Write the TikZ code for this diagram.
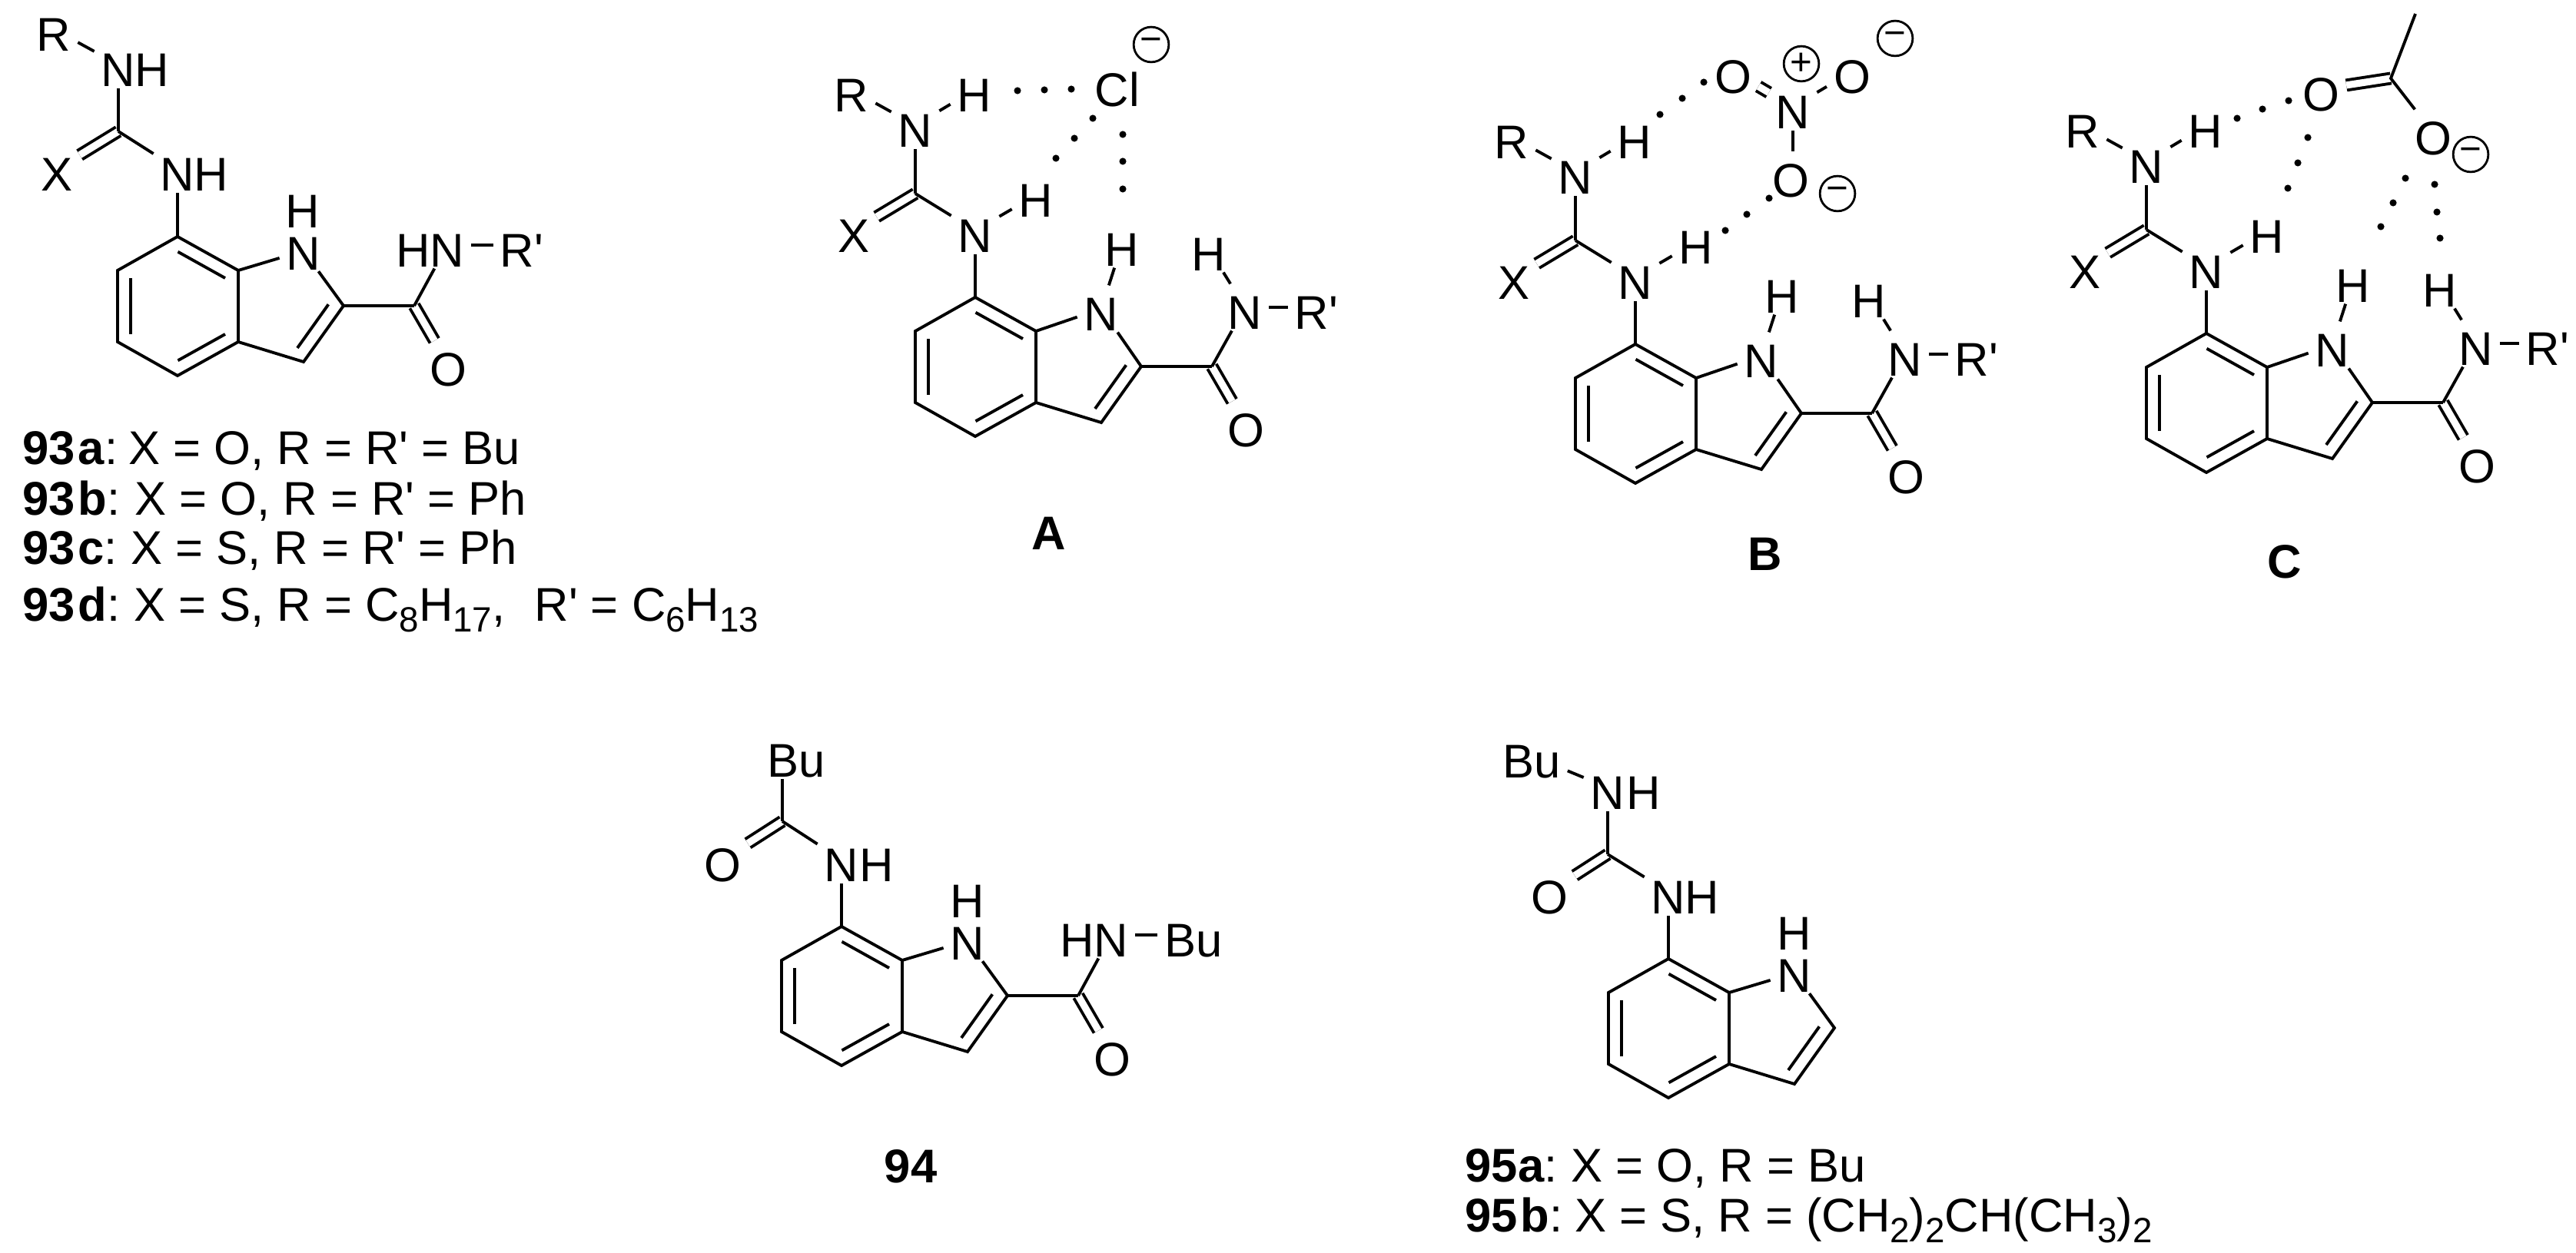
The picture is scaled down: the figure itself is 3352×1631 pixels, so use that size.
\documentclass[tikz,border=0pt]{standalone}
\usepackage{fontspec}
\setmainfont{Liberation Sans}[Ligatures=TeXOff]
\usetikzlibrary{calc}

\tikzset{
  bond/.style={line width=1.1pt},
  dbond/.style={bond,double,double distance=2.6pt},
  atom/.style={inner xsep=2.6pt,inner ysep=0.5pt,outer sep=0pt,text height=16.4pt,text depth=0pt,
    font=\fontsize{17.5}{20}\selectfont},
  ringn/.style={atom,n1box},
  n1box/.style={},
  freeh/.style={text height=14.2pt,yshift=-1pt},
  charge/.style={draw,circle,line width=0.8pt,minimum size=13pt,inner sep=0pt,
    font=\fontsize{14}{14}\selectfont},
  entry/.style={anchor=base west,inner sep=0pt,font=\fontsize{17.5}{20}\selectfont},
  cmpd/.style={inner sep=0pt,font=\fontsize{17.5}{20}\selectfont\bfseries}
}

\newcommand{\subs}[1]{\raisebox{-4pt}{\fontsize{13}{13}\selectfont #1}}

\newcommand{\ringdbl}[2]{%
  \draw [bond,shorten <=0.1cm,shorten >=0.1cm] ($(#1)!0.17cm!-90:(#2)$) -- ($(#2)!0.17cm!90:(#1)$);}

\newcommand{\indole}{%
  \coordinate (c7) at (0,0);
  \coordinate (c7a) at (79,44);
  \coordinate (c3a) at (79,137);
  \coordinate (c4) at (0,181);
  \coordinate (c5) at (-78,137);
  \coordinate (c6) at (-78,44);
  \coordinate (c2) at (216,90);
  \coordinate (c3) at (164,163);
  \node [ringn] (n1) at (164,15) {N};
  \draw [bond] (c7) -- (c7a) -- (c3a) -- (c4) -- (c5) -- (c6) -- cycle;
  \draw [bond] (c3a) -- (c3) -- (c2) -- (n1) -- (c7a);
  \ringdbl{c7}{c7a}
  \ringdbl{c3a}{c4}
  \ringdbl{c5}{c6}
  \ringdbl{c2}{c3}
}

\newcommand{\carbonyl}{%
  \coordinate (co) at (308,90);
  \node [atom] (oa) at (352,166) {O};
  \draw [dbond] (co) -- (oa);
  \draw [bond] (c2) -- (co);
}

\newcommand{\bound}{%
  \indole
  \carbonyl
  \node [atom] (h1) at (191,-69) {H};
  \node [atom] (na) at (351,13) {N};
  \node [atom] (ha) at (304,-63) {H};
  \node [atom] (rp) at (444,13) {R'};
  \draw [bond] (n1) -- (h1);
  \draw [bond] (co) -- (na);
  \draw [bond] (na) -- (ha);
  \draw [bond] (na) -- (rp);
  \coordinate (cu) at (-78,-135);
  \node [atom] (n7) at (0,-87) {N};
  \node [atom] (h7) at (79,-133) {H};
  \node [atom] (x) at (-158,-87) {X};
  \node [atom] (nb) at (-78,-224) {N};
  \node [atom] (hb) at (-1,-270) {H};
  \node [atom] (r) at (-161,-270) {R};
  \draw [dbond] (cu) -- (x);
  \draw [bond] (c7) -- (n7);
  \draw [bond] (n7) -- (h7);
  \draw [bond] (n7) -- (cu);
  \draw [bond] (cu) -- (nb);
  \draw [bond] (nb) -- (hb);
  \draw [bond] (nb) -- (r);
}

\begin{document}
\begin{tikzpicture}[x=0.01cm,y=-0.01cm]
\useasboundingbox (0,0) rectangle (3352,1631);

\begin{scope}[shift={(231,308)},name prefix=p-,n1box/.style={freeh}]
  \indole
  \carbonyl
  \node [atom] (h1) at (163,-40) {H};
  \node [atom] (na) at (351,11) {N};
  \node [atom] (ha) at (307,11) {H};
  \node [atom] (rp) at (448,11) {R'};
  \draw [bond] (co) -- (na);
  \draw [bond] (na) -- (rp);
  \coordinate (cu) at (-77,-137);
  \node [atom] (n7) at (0,-88) {N};
  \node [atom] (h7) at (44,-88) {H};
  \node [atom] (x) at (-157,-88) {X};
  \node [atom] (nb) at (-77,-224) {N};
  \node [atom] (hb) at (-33,-224) {H};
  \node [atom] (r) at (-161,-270) {R};
  \draw [dbond] (cu) -- (x);
  \draw [bond] (c7) -- (n7);
  \draw [bond] (n7) -- (cu);
  \draw [bond] (cu) -- (nb);
  \draw [bond] (nb) -- (r);
\end{scope}
\node [entry] (lbla) at (29,604) {\textbf{93\kern1pt a}:\kern-2.4pt{} X = O, R = R' = Bu};
\node [entry] (lblb) at (29,670) {\textbf{93\kern1pt b}:\kern-1pt{} X = O, R = R' = Ph};
\node [entry] (lblc) at (29,735) {\textbf{93\kern1pt c}:\kern-1.6pt{} X = S, R = R' = Ph};
\node [entry] (lbld) at (29,808) {\textbf{93\kern1pt d}:\kern-1.4pt{} X = S, R = C\subs{8}H\subs{17},\kern6pt{} R' = C\subs{6}H\subs{13}};

\begin{scope}[shift={(1269,387)},name prefix=a-]
  \bound
\end{scope}
\node [atom] (cl) at (1454,110) {Cl};
\node [charge] (clm) at (1498,58) {−};
\foreach \dx/\dy in {1324/118,1359/117,1394/116,1422/154,1398/180,1374/206,1461/175,1461/210,1461/246}
  \fill (\dx,\dy) circle (1.3pt);
\node [cmpd] (lblA) at (1365,694) {A};

\begin{scope}[shift={(2128,448)},name prefix=b-]
  \bound
\end{scope}
\node [atom] (ol) at (2255,93) {O};
\node [atom] (no) at (2333,139) {N};
\node [atom] (or) at (2410,93) {O};
\node [atom] (ob) at (2330,228) {O};
\node [charge] (nplus) at (2344,83) {+};
\node [charge] (orm) at (2466,50) {−};
\node [charge] (obm) at (2391,252) {−};
\draw [dbond] (no) -- (ol);
\draw [bond] (no) -- (or);
\draw [bond] (no) -- (no |- ob.north);
\foreach \dx/\dy in {2160/149,2189/128,2217/107,2245/300,2273/279,2302/258}
  \fill (\dx,\dy) circle (1.3pt);
\node [cmpd] (lblB) at (2297,721) {B};

\begin{scope}[shift={(2871,434)},name prefix=c-]
  \bound
\end{scope}
\coordinate (ac) at (3111,102);
\coordinate (me) at (3143,18);
\node [atom] (oc) at (3020,116) {O};
\node [atom] (od) at (3166,173) {O};
\node [charge] (odm) at (3215,201) {−};
\draw [dbond] (ac) -- (oc);
\draw [bond] (me) -- (ac) -- (od);
\foreach \dx/\dy in {2911/154,2944/142,2978/131,3003/179,2990/212,2977/245,3130/232,3114/264,3098/295,3168/240,3171/276,3175/310}
  \fill (\dx,\dy) circle (1.3pt);
\node [cmpd] (lblC) at (2973,731) {C};

\begin{scope}[shift={(1095,1206)},name prefix=d-,n1box/.style={freeh}]
  \indole
  \carbonyl
  \node [atom] (h1) at (164,-40) {H};
  \node [atom] (na) at (351,11) {N};
  \node [atom] (ha) at (307,11) {H};
  \node [atom] (bu) at (458,11) {Bu};
  \draw [bond] (co) -- (na);
  \draw [bond] (na) -- (bu);
  \coordinate (cu) at (-77,-137);
  \node [atom] (n7) at (0,-87) {N};
  \node [atom] (h7) at (46,-87) {H};
  \node [atom] (oe) at (-155,-87) {O};
  \node [atom] (bv) at (-59,-223) {Bu};
  \draw [dbond] (cu) -- (oe);
  \draw [bond] (c7) -- (n7);
  \draw [bond] (n7) -- (cu);
  \draw [bond] (cu) -- (cu |- bv.south);
\end{scope}
\node [cmpd] (lbl94) at (1185,1518) {94};

\begin{scope}[shift={(2171,1248)},name prefix=e-,n1box/.style={freeh}]
  \indole
  \node [atom] (h1) at (164,-40) {H};
  \coordinate (cu) at (-79,-136);
  \node [atom] (n7) at (0,-87) {N};
  \node [atom] (h7) at (44,-87) {H};
  \node [atom] (oe) at (-155,-87) {O};
  \node [atom] (nb) at (-79,-223) {N};
  \node [atom] (hb) at (-32,-223) {H};
  \node [atom] (bu) at (-178,-264) {Bu};
  \draw [dbond] (cu) -- (oe);
  \draw [bond] (c7) -- (n7);
  \draw [bond] (n7) -- (cu);
  \draw [bond] (cu) -- (nb);
  \draw [bond] (nb) -- (bu);
\end{scope}
\node [entry] (lble) at (1906,1538) {\textbf{95a}:\kern-1.5pt{} X = O, R = Bu};
\node [entry] (lblf) at (1906,1603) {\textbf{95\kern1pt b}:\kern-2pt{} X = S, R = (CH\subs{2})\subs{2}CH(CH\subs{3})\subs{2}};
\end{tikzpicture}
\end{document}
